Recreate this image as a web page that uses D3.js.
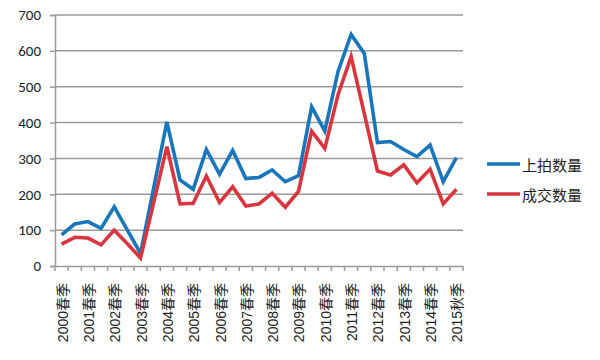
<!DOCTYPE html>
<html><head><meta charset="utf-8">
<script src="https://cdn.jsdelivr.net/npm/d3@7"></script>
<style>body{margin:0;background:#fff}svg{display:block}</style>
</head><body>
<svg id="c" width="600" height="360"></svg>
<script>
const categories = ["2000春季","2000秋季","2001春季","2001秋季","2002春季","2002秋季","2003春季","2003秋季",
"2004春季","2004秋季","2005春季","2005秋季","2006春季","2006秋季","2007春季","2007秋季",
"2008春季","2008秋季","2009春季","2009秋季","2010春季","2010秋季","2011春季","2011秋季",
"2012春季","2012秋季","2013春季","2013秋季","2014春季","2014秋季","2015秋季"];
const listed = [87,117,124,105,165,100,35,218,402,240,214,325,256,322,244,247,268,235,252,444,377,542,646,593,344,347,325,305,337,235,302];
const sold = [61,80,78,59,100,62,22,177,333,173,175,251,177,221,167,173,203,164,208,376,328,477,584,425,265,254,282,232,270,173,214];
const seriesNames = ["上拍数量","成交数量"];
const yTicks = [0,100,200,300,400,500,600,700];

const svg = d3.select("#c");
const L=55, R=463, T=15, B=266;
const x = d3.scaleBand().domain(categories).range([L,R]);
const y = d3.scaleLinear().domain([0,700]).range([B,T]);
const font = "Carlito, Calibri, 'Liberation Sans', 'Noto Sans CJK SC', sans-serif";

// grid
svg.append("g").selectAll("line").data(yTicks.filter(d=>d>0)).join("line")
  .attr("x1",L).attr("x2",R).attr("y1",d=>y(d)).attr("y2",d=>y(d))
  .attr("stroke","#9a9a9a").attr("stroke-width",1.5);

// y axis
const ya = svg.append("g").attr("transform",`translate(${L},0)`)
  .call(d3.axisLeft(y).tickValues(yTicks).tickSize(5).tickPadding(9));
ya.select(".domain").attr("stroke","#9a9a9a").attr("stroke-width",1.5);
ya.selectAll(".tick line").attr("stroke","#9a9a9a").attr("stroke-width",1.5);
ya.selectAll("text").attr("font-family",font).attr("font-size",15).attr("fill","#222");

// x axis
const xa = svg.append("g").attr("transform",`translate(0,${B})`)
  .call(d3.axisBottom(x).tickSize(0).tickFormat((d,i)=> i%2===0 ? d : ""));
xa.select(".domain").attr("stroke","#9a9a9a").attr("stroke-width",1.5);
xa.selectAll(".tick line").remove();
xa.selectAll(".tick text")
  .attr("transform","rotate(-90)")
  .attr("text-anchor","end").attr("dominant-baseline","central")
  .attr("x",-17).attr("y",1).attr("dy",null)
  .attr("font-family","'Liberation Sans', 'Noto Sans CJK SC', sans-serif").attr("font-size",14).attr("fill","#222");
// boundary ticks
const bounds = categories.map(c=>x(c)).concat([R]);
svg.append("g").selectAll("line").data(bounds).join("line")
  .attr("x1",d=>d).attr("x2",d=>d).attr("y1",B).attr("y2",B+5)
  .attr("stroke","#9a9a9a").attr("stroke-width",1.5);

// lines
const colors = ["#1a76bb","#d8363f"];
[listed, sold].forEach((vals,k)=>{
  const line = d3.line().x((d,i)=>x(categories[i])+x.bandwidth()/2).y(d=>y(d));
  svg.append("path").datum(vals).attr("d",line).attr("fill","none")
    .attr("stroke",colors[k]).attr("stroke-width",3.6).attr("stroke-linejoin","miter");
});

// legend
seriesNames.forEach((n,k)=>{
  const ly = 164 + k*30;
  svg.append("line").attr("x1",487).attr("x2",520).attr("y1",ly).attr("y2",ly)
    .attr("stroke",colors[k]).attr("stroke-width",3.6);
  svg.append("text").attr("x",522).attr("y",ly).attr("dominant-baseline","central")
    .attr("font-family","'Noto Sans CJK SC', sans-serif").attr("font-size",15).attr("fill","#222").text(n);
});
</script>
</body></html>
